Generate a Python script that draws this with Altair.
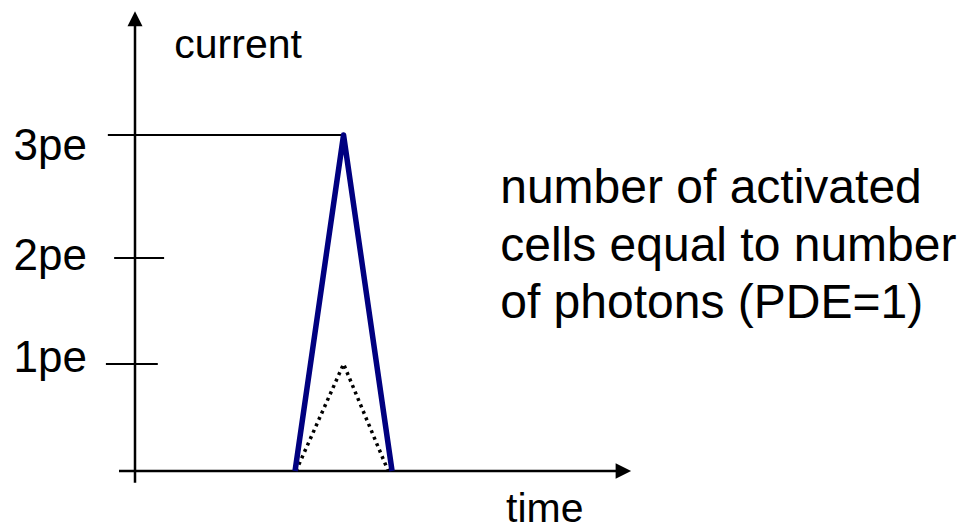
import altair as alt
import pandas as pd

# Pulse shapes: time (arbitrary units) vs current (photo-electrons)
pulse_t = [3.3, 4.3, 5.3]
pulse_pe = [0, 3, 0]
single_t = [3.32, 4.3, 5.22]
single_pe = [0, 1, 0]

# Current levels, their tick/guide extents and label baselines
levels = [1, 2, 3]
level_labels = ["1pe", "2pe", "3pe"]
tick_from = [-0.6, -0.43, -0.56]
tick_to = [0.47, 0.6, 4.3]
label_base = [0.928, 1.887, 2.797]

# Axis extents (data units)
time_axis = [-0.33, 9.95]
current_axis = [-0.11, 3.9]
arrow_time = 10.07
arrow_current = 3.945

# Axis titles and annotation text
titles = ["current", "time"]
title_t = [0.81, 7.65]
title_pe = [3.626, -0.477]
note_lines = ["number of activated", "cells equal to number", "of photons (PDE=1)"]
note_t = [7.53, 7.53, 7.53]
note_pe = [2.447, 1.972, 1.434]

xs = alt.Scale(domain=[0, 10], range=[135, 620], nice=False, zero=False)
ys = alt.Scale(domain=[0, 1, 2, 3], range=[471, 364, 258, 135], nice=False, zero=False)

FONT = "Liberation Sans"

pulse = pd.DataFrame({"t": pulse_t, "pe": pulse_pe})
single = pd.DataFrame({"t": single_t, "pe": single_pe})
ticks = pd.DataFrame({"level": levels, "label": level_labels, "t0": tick_from,
                      "t1": tick_to, "lb": label_base})
axes = pd.DataFrame({"t0": [time_axis[0], 0], "t1": [time_axis[1], 0],
                     "p0": [0, current_axis[0]], "p1": [0, current_axis[1]]})
arrows_up = pd.DataFrame({"t": [0], "pe": [arrow_current]})
arrows_right = pd.DataFrame({"t": [arrow_time], "pe": [0]})
title_df = pd.DataFrame({"text": titles, "t": title_t, "pe": title_pe})
note_df = pd.DataFrame({"text": note_lines, "t": note_t, "pe": note_pe})

X = lambda f: alt.X(f, type="quantitative", scale=xs, axis=None)
Y = lambda f: alt.Y(f, type="quantitative", scale=ys, axis=None)

axis_lines = alt.Chart(axes).mark_rule(color="black", strokeWidth=2.5).encode(
    x=X("t0"), x2="t1", y=Y("p0"), y2="p1"
)

up_head = alt.Chart(arrows_up).mark_point(
    shape="M0,-1L-1,1L1,1Z", filled=True, color="black", opacity=1, size=225, strokeWidth=0
).encode(x=X("t"), y=Y("pe"))

right_head = alt.Chart(arrows_right).mark_point(
    shape="M1,0L-1,-1L-1,1Z", filled=True, color="black", opacity=1, size=240, strokeWidth=0
).encode(x=X("t"), y=Y("pe"))

tick_lines = alt.Chart(ticks).mark_rule(color="black", strokeWidth=2).encode(
    x=X("t0"), x2="t1", y=Y("level")
)

tick_text = alt.Chart(ticks).mark_text(
    align="right", baseline="alphabetic", font=FONT, fontSize=44, color="black"
).encode(x=alt.value(87), y=Y("lb"), text="label:N")

single_line = alt.Chart(single).mark_line(
    color="black", strokeWidth=3.5, strokeDash=[3, 4]
).encode(x=X("t"), y=Y("pe"), order="t:Q")

pulse_line = alt.Chart(pulse).mark_line(
    color="#000080", strokeWidth=5.5, strokeJoin="round", strokeCap="butt"
).encode(x=X("t"), y=Y("pe"), order="t:Q")

title_text = alt.Chart(title_df).mark_text(
    align="left", baseline="alphabetic", font=FONT, fontSize=41, color="black"
).encode(x=X("t"), y=Y("pe"), text="text:N")

note_text = alt.Chart(note_df).mark_text(
    align="left", baseline="alphabetic", font=FONT, fontSize=48, color="black"
).encode(x=X("t"), y=Y("pe"), text="text:N")

chart = alt.layer(
    axis_lines, up_head, right_head, tick_lines, tick_text,
    single_line, pulse_line, title_text, note_text
).properties(
    width=969, height=532, padding=0, autosize=alt.AutoSizeParams(type="none"),
    background="white"
).configure_view(stroke=None)

chart.save("out.html", embed_options={"renderer": "svg", "actions": False})
